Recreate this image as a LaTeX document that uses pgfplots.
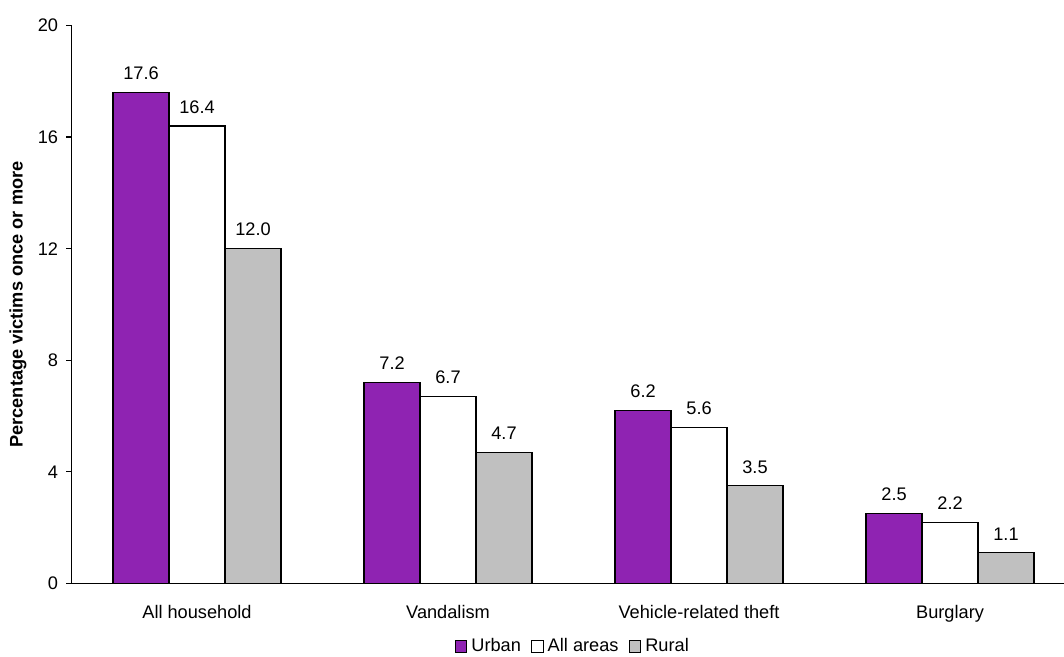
\documentclass[border=0pt]{standalone}
\usepackage{pgfplots}
\pgfplotsset{compat=1.18}
\usepackage{fontspec}
\setmainfont{Liberation Sans}
\definecolor{urban}{RGB}{143,35,178}
\definecolor{rural}{RGB}{192,192,192}
\begin{document}
\begin{tikzpicture}
\fontsize{9.1}{11}\selectfont
\begin{axis}[
  at={(0pt,0pt)}, anchor=south west,
  scale only axis,
  width=496.25pt, height=279pt,
  xmin=-0.5, xmax=3.454,
  ymin=0, ymax=20,
  axis lines*=left,
  axis line style={line width=0.6pt},
  ytick={0,4,...,20},
  xtick={0,1,2,3},
  xticklabels={All household,Vandalism,Vehicle-related theft,Burglary},
  major x tick style={draw=none},
  extra x ticks={-0.5,0.5,1.5,2.5},
  extra x tick labels={},
  extra x tick style={tick style={black,line width=0.6pt}, major tick length=2.5pt},
  tick align=outside,
  major tick length=2.5pt,
  tick style={black,line width=0.6pt},
  xticklabel style={yshift=-5pt},
  yticklabel style={xshift=-1pt},
  /pgf/number format/assume math mode=true,
  ylabel={\bfseries Percentage victims once or more},
  ylabel style={at={(axis description cs:-0.054,0.5)}, anchor=center},
  ybar, bar width=0.223, bar shift auto=false,
  nodes near coords,
  nodes near coords style={/pgf/number format/.cd, fixed, fixed zerofill, precision=1, /tikz/.cd, yshift=3pt},
  every axis plot/.append style={draw=black, line width=0.6pt},
  legend style={at={(0.506,-0.113)}, anchor=center, draw=none, legend columns=3,
    /tikz/every even column/.append style={column sep=3pt}, inner sep=0pt,
    /tikz/every odd column/.append style={column sep=0pt}},
  legend image code/.code={\draw[#1, line width=0.6pt] (0pt,-2.9pt) rectangle (5.8pt,2.9pt);},
  legend cell align=left,
]
\addplot[fill=urban, bar shift=-0.223] coordinates {(0,17.6) (1,7.2) (2,6.2) (3,2.5)};
\addlegendentry{Urban}
\addplot[fill=white, bar shift=0] coordinates {(0,16.4) (1,6.7) (2,5.6) (3,2.2)};
\addlegendentry{All areas}
\addplot[fill=rural, bar shift=0.223] coordinates {(0,12.0) (1,4.7) (2,3.5) (3,1.1)};
\addlegendentry{Rural}
\end{axis}
\pgfresetboundingbox
\path (-35.75pt,-36.75pt) rectangle (496.25pt,291.75pt);
\end{tikzpicture}
\end{document}
